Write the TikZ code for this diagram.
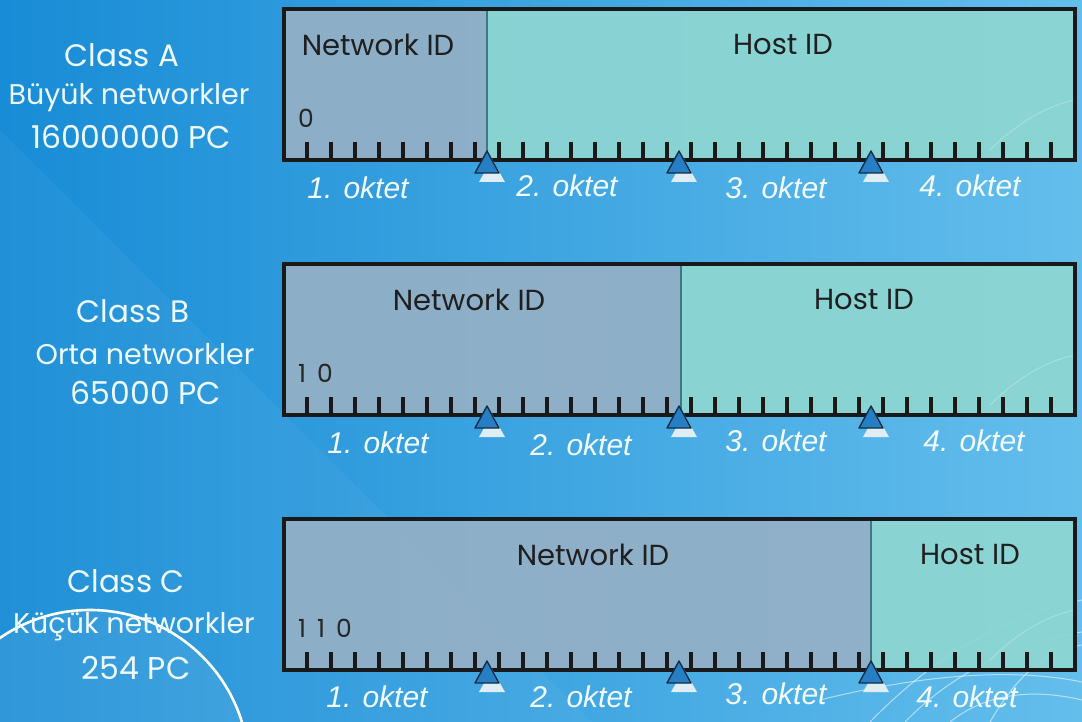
\documentclass[tikz,border=0pt]{standalone}
\usepackage{fontspec}
\setmainfont{Poppins}
\newfontfamily\oktetfont{Liberation Sans}
\definecolor{bgL}{RGB}{24,140,214}
\definecolor{bgR}{RGB}{100,190,236}
\definecolor{netfill}{RGB}{148,176,198}
\definecolor{hostfill}{RGB}{142,214,210}
\definecolor{divcol}{RGB}{60,120,130}
\definecolor{tricol}{RGB}{38,126,196}
\definecolor{tridraw}{RGB}{20,45,70}
\definecolor{shadowcol}{RGB}{222,238,244}
\definecolor{labelcol}{RGB}{238,250,255}
\tikzset{
  boxline/.style={draw=black!90, line width=3.6pt},
  tickline/.style={draw=black!90, line width=3.2pt},
  divline/.style={draw=divcol, line width=1.8pt},
  tri/.style={fill=tricol, draw=tridraw, line width=1.4pt, line join=round},
  trishadow/.style={fill=shadowcol},
  fieldlabel/.style={font=\fontsize{29}{29}\selectfont, text=black!88, inner sep=0pt},
  bitlabel/.style={font=\fontsize{25}{25}\selectfont, text=black!85, inner sep=0pt, anchor=west},
  oktet/.style={font=\oktetfont\itshape\fontsize{30}{30}\selectfont, text=white!95!cyan, inner sep=0pt},
  classlabel/.style={font=\fontsize{31}{31}\selectfont, text=labelcol, inner sep=0pt},
  sublabel/.style={font=\fontsize{28.5}{28.5}\selectfont, text=labelcol, inner sep=0pt},
  pclabel/.style={font=\fontsize{31.5}{31.5}\selectfont, text=labelcol, inner sep=0pt},
  wisp/.style={draw=white, opacity=0.55, line width=1pt},
}
\newcommand{\bsp}{\hspace{11pt}}
\begin{document}
\begin{tikzpicture}[x=1pt,y=-1pt]
\useasboundingbox (0,0) rectangle (1082,722);
% background
\shade[left color=bgL, right color=bgR] (0,0) rectangle (1082,722);
\fill[white, opacity=0.04] (0,130) -- (592,722) -- (0,722) -- cycle;
\fill[white, opacity=0.07] (90,769) circle (159);
\draw[white, line width=2.6pt] (90,769) circle (159);
% wisps bottom right
\draw[wisp] (870,722) .. controls (940,650) and (1010,615) .. (1082,600);
\draw[wisp] (905,722) .. controls (960,665) and (1030,640) .. (1082,632);
\draw[wisp] (990,722) .. controls (1020,670) and (1050,650) .. (1082,645);
\draw[wisp] (820,700) .. controls (900,680) and (1000,665) .. (1082,682);
\draw[wisp] (950,722) .. controls (990,690) and (1040,690) .. (1082,700);

% boxes
\foreach \T/\S/\bits/\nx/\hx/\nm in {9/487/0/378/783/A, 264/681/1\bsp0/469/864/B, 519/871/1\bsp1\bsp0/593/970/C}{
  \pgfmathsetmacro{\B}{\T+151}
  \fill[netfill, opacity=0.93] (284,\T) rectangle (\S,\B);
  \fill[hostfill, opacity=0.93] (\S,\T) rectangle (1075,\B);
  \draw[wisp, opacity=0.25] (990,\B-10) .. controls (1020,\B-40) and (1050,\B-55) .. (1075,\B-60);
  \draw[divline] (\S,\T) -- (\S,\B);
  \foreach \n in {0,...,31}{
    \draw[tickline] (307+24*\n,\B) -- ++(0,-18);
  }
  \draw[boxline] (284,\T) rectangle (1075,\B);
  \foreach \tx in {487,679,871}{
    \fill[trishadow] (\tx+5,\B-1) -- (\tx+18,\B+22) -- (\tx-8,\B+22) -- cycle;
    \draw[tri] (\tx,\B-9) -- (\tx+12,\B+13) -- (\tx-12,\B+13) -- cycle;
  }
  \node[fieldlabel] (net\nm) at (\nx,\T+36) {Network ID};
  \node[fieldlabel] (host\nm) at (\hx,\T+36) {Host ID};
  \node[bitlabel] (bits\nm) at (298,\T+109) {\bits};
}
% oktet labels
\node[oktet] (a1) at (358,188) {1. oktet};
\node[oktet] (a2) at (567,186) {2. oktet};
\node[oktet] (a3) at (776,188) {3. oktet};
\node[oktet] (a4) at (970,186) {4. oktet};
\node[oktet] (b1) at (378,443) {1. oktet};
\node[oktet] (b2) at (581,445) {2. oktet};
\node[oktet] (b3) at (776,441) {3. oktet};
\node[oktet] (b4) at (974,441) {4. oktet};
\node[oktet] (c1) at (377,697) {1. oktet};
\node[oktet] (c2) at (581,697) {2. oktet};
\node[oktet] (c3) at (776,694) {3. oktet};
\node[oktet] (c4) at (967,697) {4. oktet};
% class labels
\node[classlabel] (clA) at (122,55) {Class A};
\node[sublabel] (sA) at (129,98) {Büyük networkler};
\node[pclabel] (pA) at (131,137) {16000000 PC};
\node[classlabel] (clB) at (133,311) {Class B};
\node[sublabel] (sB) at (145,354) {Orta networkler};
\node[pclabel] (pB) at (146,393) {65000 PC};
\node[classlabel] (clC) at (126,581) {Class C};
\node[sublabel] (sC) at (134,627) {Küçük networkler};
\node[pclabel] (pC) at (136,668) {254 PC};
\end{tikzpicture}
\end{document}
